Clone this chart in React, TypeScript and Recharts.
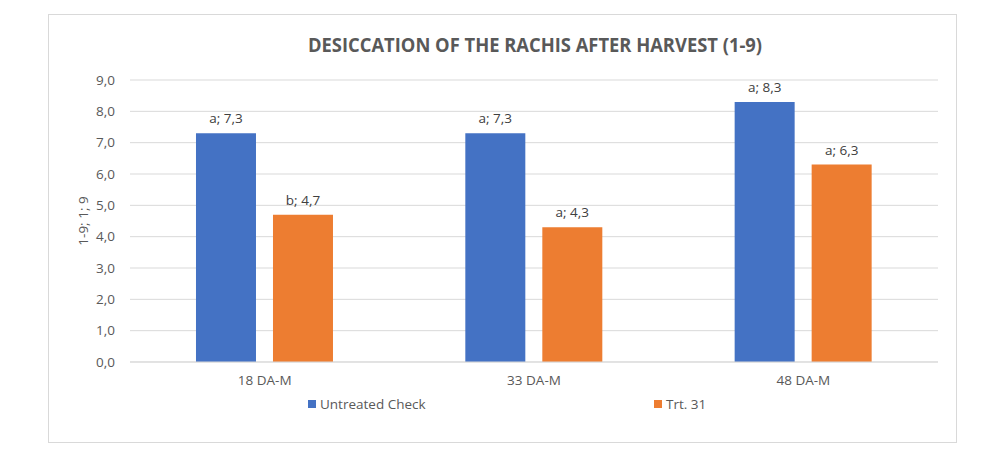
import { BarChart, Bar, XAxis, YAxis, CartesianGrid, LabelList, Legend } from 'recharts';

const categories = ['18 DA-M', '33 DA-M', '48 DA-M'];
const untreatedValues = [7.3, 7.3, 8.3];
const trt31Values = [4.7, 4.3, 6.3];
const untreatedLetters = ['a', 'a', 'a'];
const trt31Letters = ['b', 'a', 'a'];
const yTicks = [0, 1, 2, 3, 4, 5, 6, 7, 8, 9];

const BLUE = '#4472C4';
const ORANGE = '#ED7D31';
const FONT = '"Open Sans", sans-serif';

const data = categories.map((name, i) => ({
  name,
  untreated: untreatedValues[i],
  trt31: trt31Values[i],
  untreatedLabel: `${untreatedLetters[i]}; ${untreatedValues[i].toFixed(1).replace('.', ',')}`,
  trt31Label: `${trt31Letters[i]}; ${trt31Values[i].toFixed(1).replace('.', ',')}`,
}));

const fmt = (v: number) => v.toFixed(1).replace('.', ',');

function renderLegend() {
  const items = [
    { label: 'Untreated Check', color: BLUE, left: 308 },
    { label: 'Trt. 31', color: ORANGE, left: 654 },
  ];
  return (
    <div style={{ position: 'relative', height: 20 }}>
      {items.map((it) => (
        <div
          key={it.label}
          style={{
            position: 'absolute',
            left: it.left,
            top: 0,
            display: 'flex',
            alignItems: 'center',
            fontFamily: FONT,
            fontSize: 13.5,
            color: '#595959',
          }}
        >
          <span style={{ width: 8, height: 8, background: it.color, marginRight: 4, display: 'inline-block' }} />
          {it.label}
        </div>
      ))}
    </div>
  );
}

export default function App() {
  return (
    <div style={{ position: 'fixed', left: 0, top: 0, width: 1000, height: 451, background: '#fff' }}>
      <div
        style={{
          position: 'absolute',
          left: 48,
          top: 14,
          width: 909,
          height: 429,
          border: '1px solid #d9d9d9',
          boxSizing: 'border-box',
        }}
      />
      <svg style={{ position: 'absolute', left: 0, top: 0 }} width={1000} height={80}>
        <text
          x={535}
          y={52}
          textAnchor="middle"
          textLength={454}
          lengthAdjust="spacingAndGlyphs"
          fontFamily={FONT}
          fontWeight={700}
          fontSize={19}
          fill="#595959"
        >
          DESICCATION OF THE RACHIS AFTER HARVEST (1-9)
        </text>
      </svg>
      <BarChart
        width={1000}
        height={451}
        data={data}
        margin={{ top: 80, right: 62, bottom: 39, left: 80 }}
        barGap={17}
        barCategoryGap="24.5%"
        style={{ position: 'absolute', left: 0, top: 0 }}
      >
        <CartesianGrid vertical={false} stroke="#d9d9d9" />
        <XAxis
          dataKey="name"
          axisLine={{ stroke: '#d9d9d9' }}
          tickLine={false}
          tickSize={0}
          tickMargin={13}
          height={30}
          tick={{ fontFamily: FONT, fontSize: 13.5, fill: '#595959' }}
        />
        <YAxis
          domain={[0, 9]}
          ticks={yTicks}
          tickFormatter={fmt}
          axisLine={false}
          tickLine={false}
          tickSize={0}
          tickMargin={15}
          width={50}
          tick={{ fontFamily: FONT, fontSize: 13.5, fill: '#595959' }}
          label={{
            value: '1-9; 1; 9',
            angle: -90,
            position: 'insideLeft',
            offset: 3,
            style: { fontFamily: FONT, fontSize: 13.5, fill: '#595959', textAnchor: 'middle' },
          }}
        />
        <Legend
          content={renderLegend}
          wrapperStyle={{ position: 'absolute', left: 0, top: 395, width: 1000 }}
        />
        <Bar dataKey="untreated" name="Untreated Check" fill={BLUE} isAnimationActive={false}>
          <LabelList
            dataKey="untreatedLabel"
            position="top"
            offset={10}
            style={{ fontFamily: FONT, fontSize: 13.5, fill: '#404040' }}
          />
        </Bar>
        <Bar dataKey="trt31" name="Trt. 31" fill={ORANGE} isAnimationActive={false}>
          <LabelList
            dataKey="trt31Label"
            position="top"
            offset={10}
            style={{ fontFamily: FONT, fontSize: 13.5, fill: '#404040' }}
          />
        </Bar>
      </BarChart>
    </div>
  );
}
